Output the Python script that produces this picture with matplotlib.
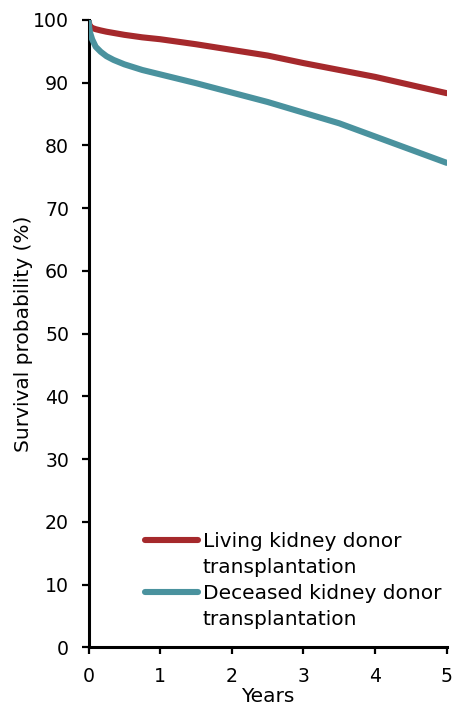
import matplotlib
matplotlib.use("Agg")
import matplotlib.pyplot as plt
from matplotlib.lines import Line2D

plt.rcParams['font.family'] = ['DejaVu Sans']

years = [0, 0.01, 0.02, 0.05, 0.1, 0.17, 0.25, 0.35, 0.5, 0.75, 1.0, 1.25, 1.5, 2.0, 2.5, 3.0, 3.5, 4.0, 4.5, 5.0]
living = [100, 99.3, 99.0, 98.7, 98.5, 98.3, 98.1, 97.9, 97.6, 97.2, 96.9, 96.5, 96.1, 95.2, 94.3, 93.1, 92.0, 90.9, 89.6, 88.3]
deceased = [100, 98.7, 98.0, 96.9, 95.7, 94.9, 94.2, 93.6, 92.9, 92.0, 91.3, 90.6, 89.9, 88.4, 86.9, 85.2, 83.5, 81.4, 79.3, 77.2]

label_living = ["Living kidney donor", "transplantation"]
label_deceased = ["Deceased kidney donor", "transplantation"]
x_ticks = [0, 1, 2, 3, 4, 5]
y_ticks = [0, 10, 20, 30, 40, 50, 60, 70, 80, 90, 100]

red = "#A5292C"
teal = "#4A929E"

fig = plt.figure(figsize=(4.54, 7.06), dpi=100)
ax = fig.add_axes([0.195, 0.083, 0.789, 0.889])

ax.plot(years, living, color=red, lw=4.4, solid_capstyle="round",
        solid_joinstyle="round", zorder=3)
ax.plot(years, deceased, color=teal, lw=4.4, solid_capstyle="round",
        solid_joinstyle="round", zorder=3)

ax.set_xlim(0, 5)
ax.set_ylim(0, 100)
ax.set_xticks(x_ticks)
ax.set_yticks(y_ticks)
for s in ["top", "right"]:
    ax.spines[s].set_visible(False)
for s in ["left", "bottom"]:
    ax.spines[s].set_linewidth(2.2)
    ax.spines[s].set_color("black")
ax.tick_params(axis="both", direction="out", length=5, width=1.6, colors="black",
               labelsize=13.6)
ax.tick_params(axis="y", pad=9)
ax.tick_params(axis="x", pad=9)
ax.set_xlabel("Years", fontsize=14.5, labelpad=1)
ax.set_ylabel("Survival probability (%)", fontsize=14.5, labelpad=0)

handles = [
    Line2D([], [], color=red, lw=4.4, solid_capstyle="round"),
    Line2D([], [], color="none", lw=0),
    Line2D([], [], color=teal, lw=4.4, solid_capstyle="round"),
    Line2D([], [], color="none", lw=0),
]
labels = label_living + label_deceased
leg = ax.legend(handles, labels, loc="lower left", bbox_to_anchor=(0.158, 0.03),
                frameon=False, fontsize=14.5, handlelength=2.65, handletextpad=0.2,
                labelspacing=0.34, borderpad=0, borderaxespad=0)

fig.savefig("out.png", dpi=100)
